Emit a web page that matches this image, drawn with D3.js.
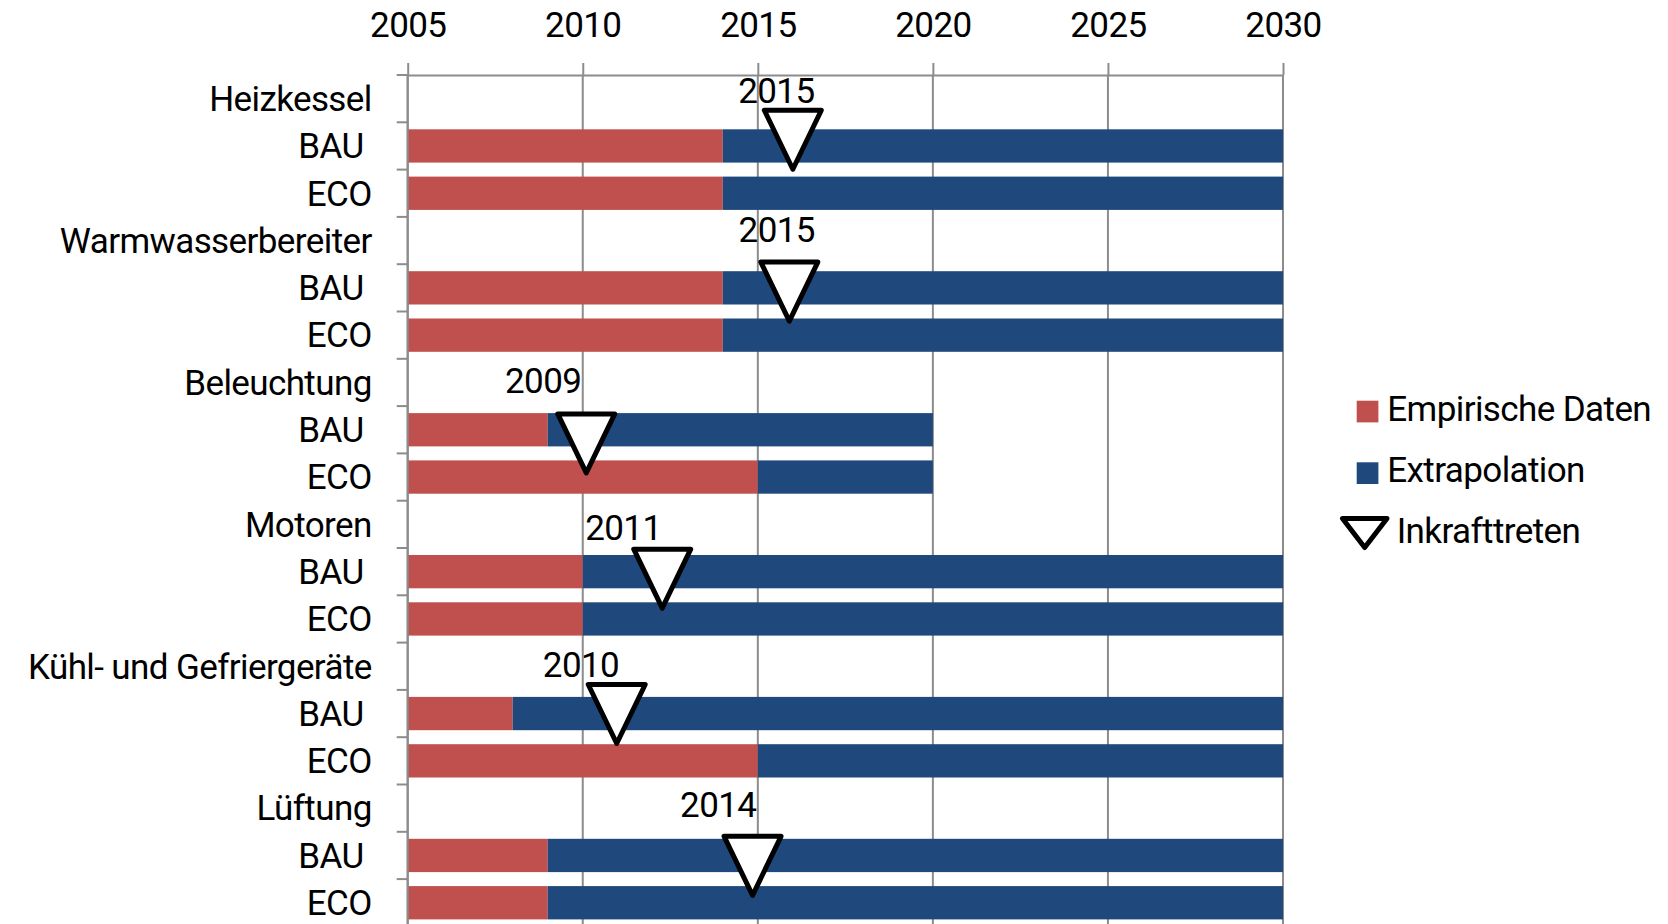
<!DOCTYPE html>
<html>
<head>
<meta charset="utf-8">
<script src="https://cdn.jsdelivr.net/npm/d3@7"></script>
<style>
    body { margin: 0; background: #fff; }
    svg text { font-family: Roboto, "Liberation Sans", sans-serif; font-size: 35px; letter-spacing: -0.6px; fill: #000; white-space: pre; }
</style>
</head>
<body>
<svg id="chart" width="1668" height="924"></svg>
<script>
"use strict";

// rows from top to bottom
const rowLabels = [
    "Heizkessel", "BAU ", "ECO",
    "Warmwasserbereiter", "BAU ", "ECO",
    "Beleuchtung", "BAU ", "ECO",
    "Motoren", "BAU ", "ECO",
    "Kühl- und Gefriergeräte", "BAU ", "ECO",
    "Lüftung", "BAU ", "ECO"
];
// last year of empirical data (null = group header row)
const empiricalEnd = [
    null, 2014, 2014,
    null, 2014, 2014,
    null, 2009, 2015,
    null, 2010, 2010,
    null, 2008, 2015,
    null, 2009, 2009
];
// last year of extrapolation
const extrapolationEnd = [
    null, 2030, 2030,
    null, 2030, 2030,
    null, 2020, 2020,
    null, 2030, 2030,
    null, 2030, 2030,
    null, 2030, 2030
];
// "Inkrafttreten" markers: x in years, y in row units (marker centre)
const markerYears = [2016.0, 2015.9, 2010.1, 2012.27, 2010.97, 2014.85];
const markerRows = [1.39, 4.6, 7.81, 10.67, 13.53, 16.74];
// marker labels: text, centre x in years, baseline in row units
const markerLabels = ["2015", "2015", "2009", "2011", "2010", "2014"];
const markerLabelYears = [2015.53, 2015.54, 2008.87, 2011.16, 2009.95, 2013.87];
const markerLabelRows = [0.6, 3.54, 6.72, 9.83, 12.72, 15.68];

const xTicks = [2005, 2010, 2015, 2020, 2025, 2030];
const legendItems = ["Empirische Daten", "Extrapolation", "Inkrafttreten"];

const colors = { empirical: "#C0504D", extrapolation: "#1F497D", grid: "#8C8C8C" };

const svg = d3.select("#chart");
const plotTop = 75;
const rowStep = 47.3;

const x = d3.scaleLinear().domain([2005, 2030]).range([407.7, 1283]);
const yRow = d3.scaleLinear().domain([0, rowLabels.length]).range([plotTop, plotTop + rowLabels.length * rowStep]);
const yBand = d3.scaleBand()
    .domain(d3.range(rowLabels.length))
    .range(yRow.range())
    .paddingInner(0.296)
    .paddingOuter(0.148);

// vertical gridlines
svg.append("g")
    .selectAll("line")
    .data(xTicks)
    .join("line")
    .attr("x1", (d) => x(d))
    .attr("x2", (d) => x(d))
    .attr("y1", plotTop)
    .attr("y2", 924)
    .attr("stroke", colors.grid)
    .attr("stroke-width", 2);

// bars
const rows = d3.range(rowLabels.length).filter((i) => empiricalEnd[i] !== null);
const barGroup = svg.append("g");
barGroup.selectAll("rect.emp")
    .data(rows)
    .join("rect")
    .attr("class", "emp")
    .attr("x", x(2005))
    .attr("y", (i) => yBand(i))
    .attr("width", (i) => x(empiricalEnd[i]) - x(2005))
    .attr("height", yBand.bandwidth())
    .attr("fill", colors.empirical);
barGroup.selectAll("rect.ext")
    .data(rows)
    .join("rect")
    .attr("class", "ext")
    .attr("x", (i) => x(empiricalEnd[i]))
    .attr("y", (i) => yBand(i))
    .attr("width", (i) => x(extrapolationEnd[i]) - x(empiricalEnd[i]))
    .attr("height", yBand.bandwidth())
    .attr("fill", colors.extrapolation);

// top axis
const xAxis = svg.append("g")
    .attr("transform", `translate(0,${plotTop})`)
    .call(d3.axisTop(x).tickValues(xTicks).tickFormat(d3.format("d")).tickSize(12).tickSizeOuter(0));
xAxis.select(".domain").attr("stroke", colors.grid).attr("stroke-width", 2);
xAxis.selectAll(".tick line").attr("stroke", colors.grid).attr("stroke-width", 2);
xAxis.selectAll(".tick text")
    .attr("y", 36.7 - plotTop)
    .attr("dy", 0)
    .style("font-size", "35px");

// left axis: boundary ticks, labels at row centres
const yAxis = svg.append("g").attr("transform", `translate(${x(2005)},0)`);
yAxis.append("line")
    .attr("x1", 0).attr("x2", 0)
    .attr("y1", plotTop).attr("y2", 924)
    .attr("stroke", colors.grid).attr("stroke-width", 2);
yAxis.selectAll("line.tick")
    .data(d3.range(rowLabels.length + 1))
    .join("line")
    .attr("class", "tick")
    .attr("x1", -11).attr("x2", 0)
    .attr("y1", (d) => yRow(d)).attr("y2", (d) => yRow(d))
    .attr("stroke", colors.grid).attr("stroke-width", 2);
yAxis.selectAll("text")
    .data(rowLabels)
    .join("text")
    .attr("x", -36)
    .attr("y", (d, i) => yRow(i + 0.5))
    .attr("dy", "0.35em")
    .attr("text-anchor", "end")
    .text((d) => d);

// triangle markers
const triPath = (cx, cy) => `M${cx - 28.5},${cy - 30.5}L${cx + 28.5},${cy - 30.5}L${cx},${cy + 28.5}Z`;
svg.append("g")
    .selectAll("path")
    .data(markerYears)
    .join("path")
    .attr("d", (d, i) => triPath(x(d), yRow(markerRows[i])))
    .attr("fill", "#fff")
    .attr("stroke", "#000")
    .attr("stroke-width", 5)
    .attr("stroke-linejoin", "round");
svg.append("g")
    .selectAll("text")
    .data(markerLabels)
    .join("text")
    .attr("x", (d, i) => x(markerLabelYears[i]))
    .attr("y", (d, i) => yRow(markerLabelRows[i]))
    .attr("text-anchor", "middle")
    .text((d) => d);

// legend
const legend = svg.append("g");
const legendColors = [colors.empirical, colors.extrapolation];
legend.selectAll("rect")
    .data(legendColors)
    .join("rect")
    .attr("x", 1356.7)
    .attr("y", (d, i) => 400.7 + i * 61.6)
    .attr("width", 21.7)
    .attr("height", 21.7)
    .attr("fill", (d) => d);
legend.append("path")
    .attr("d", "M1342.5,518.5L1387,518.5L1364.7,547.5Z")
    .attr("fill", "#fff")
    .attr("stroke", "#000")
    .attr("stroke-width", 5)
    .attr("stroke-linejoin", "round");
legend.selectAll("text")
    .data(legendItems)
    .join("text")
    .attr("x", (d, i) => (i < 2 ? 1387.3 : 1396.7))
    .attr("y", (d, i) => [421, 481.7, 543.3][i])
    .text((d) => d);
</script>
</body>
</html>
